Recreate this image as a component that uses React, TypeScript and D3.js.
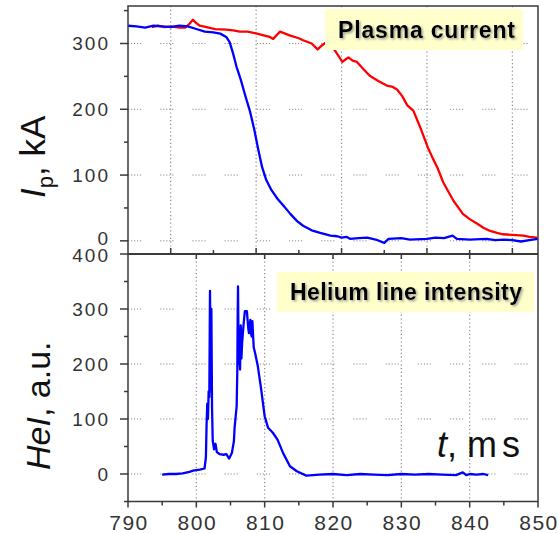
import * as d3 from "d3";
import React from "react";

// plasma current, kA (top panel)
const ipBlue: [number, number][] = [
  [795, 327], [796, 326], [797, 324], [798, 327], [799, 326], [800, 325], [801, 327], [802, 326],
  [803, 322], [804, 318], [805, 317], [805.8, 315], [806.5, 310], [806.9, 302], [807.3, 285],
  [807.7, 265], [808.2, 245], [808.7, 222], [809.3, 196], [809.8, 168], [810.2, 142], [810.7, 112],
  [811.2, 92], [811.8, 77], [812.5, 64], [813.3, 52], [814, 41], [814.8, 30], [815.5, 23],
  [816.5, 16], [817.5, 12], [818.7, 8], [819.5, 7], [820, 5], [820.6, 6], [821, 3], [822, 4],
  [823, 5], [824, 2], [825, -3], [825.5, 3], [827, 4], [828, 2], [830, 3], [831, 5], [832, 4],
  [833, 8], [833.5, 3], [835, 2], [837, 3], [838, 1], [839, 2], [840, 1], [841, -1], [842, 1], [843, 3],
];

const ipRed: [number, number][] = [
  [797.8, 325], [798.5, 327], [799.3, 325], [800, 326], [801, 324], [801.7, 324], [802.2, 330],
  [802.6, 336], [803, 331], [803.4, 327], [804.2, 325], [805.2, 322], [806.5, 321], [807.3, 320],
  [808.1, 318], [809, 318], [810.1, 315], [811, 312], [811.6, 310], [812, 307], [812.5, 314],
  [812.8, 318], [813.4, 315], [814, 312], [815, 308], [815.5, 305], [816.5, 300], [817.2, 291],
  [817.7, 297], [818.1, 301], [818.6, 298], [819.2, 290], [819.7, 280], [820.1, 272], [820.5, 276],
  [820.8, 279], [821.3, 274], [821.8, 272], [822.5, 262], [823.3, 251], [824.3, 243], [825.3, 236],
  [826, 234], [826.5, 230], [827.1, 220], [827.7, 206], [828.4, 198], [829.2, 173], [830.1, 142],
  [830.7, 125], [831.2, 112], [831.9, 89], [832.5, 75], [833.1, 61], [833.7, 50], [834.2, 41],
  [835, 33], [835.9, 26], [836.6, 20], [837.4, 15], [838.2, 12], [838.9, 10], [840, 9],
  [841.3, 8], [842, 6], [842.9, 5],
];

// He I line intensity, a.u. (bottom panel)
const heI: [number, number][] = [
  [795, -1], [796, 0], [797, 0], [798, 1], [799, 4], [799.5, 6], [800.5, 8], [801.2, 10],
  [801.4, 30], [801.5, 90], [801.6, 128], [801.7, 100], [801.8, 150], [801.9, 140], [802.0, 333],
  [802.1, 150], [802.2, 300], [802.3, 120], [802.4, 60], [802.6, 45], [802.8, 55], [803, 40],
  [803.4, 36], [804, 35], [804.4, 36], [804.8, 28], [805.2, 38], [805.5, 60], [805.6, 84],
  [805.8, 110], [805.9, 123], [806.0, 190], [806.05, 285], [806.1, 341], [806.2, 200],
  [806.3, 244], [806.4, 190], [806.5, 270], [806.6, 210], [806.7, 238], [806.9, 270],
  [807.1, 296], [807.4, 296], [807.6, 265], [807.7, 256], [807.9, 280], [808.0, 255],
  [808.1, 250], [808.2, 278], [808.4, 230], [808.6, 220], [809.0, 196], [809.5, 153],
  [810, 105], [810.5, 84], [811.2, 75], [811.9, 62], [812.7, 38], [813.7, 14], [814.7, 5],
  [816.1, -3], [818, -1], [820, 0], [822, -2], [824, 0], [826, -1], [828, -2], [830, 0],
  [832, -1], [834, 0], [836, -1], [838, -2], [839, 3], [839.5, -2], [840, 0], [841, -1],
  [842, 0], [842.7, -2],
];

const xTicks = [790, 800, 810, 820, 830, 840, 850];
const xMinor = [795, 805, 815, 825, 835, 845];
const gridT = [800, 810, 820, 830, 840];
const topMinorT = [805, 815, 825, 835];
const yTicksTop = [0, 100, 200, 300];
const yMinorTop = [50, 150, 250, 350];
const yTicksBot = [0, 100, 200, 300, 400];
const yMinorBot = [-50, 50, 150, 250, 350];

const L = 128, R = 538, T1 = 6, MID = 254, B2 = 501.5;
const axisCol = "#3a3a3a";
const gridCol = "#8a8a8a";
const font = "'Liberation Sans', Arial, sans-serif";
const hDash = "1.2 1.8 1.2 1.8 1.2 1.8 1.2 1.8 1.2 19";

export default function App() {
  const xTop = d3.scaleLinear().domain([795, 843]).range([L, R]);
  const xBot = d3.scaleLinear().domain([790, 850]).range([L, R]);
  const yTop = d3.scaleLinear().domain([-20, 357]).range([MID, T1]);
  const yBot = d3.scaleLinear().domain([-50, 400]).range([B2, MID]);

  const lineTop = d3.line<[number, number]>().x(d => xTop(d[0])).y(d => yTop(d[1]));
  const lineBot = d3.line<[number, number]>().x(d => xBot(d[0])).y(d => yBot(d[1]));

  return (
    <svg width={558} height={533} style={{ position: "absolute", left: 0, top: 0, background: "#fff" }}>
      <defs>
        <clipPath id="cTop"><rect x={L} y={T1} width={R - L} height={MID - T1} /></clipPath>
        <clipPath id="cBot"><rect x={L} y={MID} width={R - L} height={B2 - MID} /></clipPath>
        <filter id="sh" x="-10%" y="-30%" width="120%" height="160%">
          <feDropShadow dx={1.5} dy={1.5} stdDeviation={1} floodColor="#777" floodOpacity={0.7} />
        </filter>
      </defs>

      {/* grid, top panel */}
      {gridT.map(t => (
        <line key={"gvt" + t} x1={xTop(t)} x2={xTop(t)} y1={T1} y2={MID} stroke={gridCol} strokeWidth={1.2} strokeDasharray="1.2 2.6" />
      ))}
      {yTicksTop.map(v => (
        <line key={"ght" + v} x1={L} x2={R} y1={yTop(v)} y2={yTop(v)} stroke={gridCol} strokeWidth={1} strokeDasharray={hDash} />
      ))}
      {/* grid, bottom panel */}
      {gridT.map(t => (
        <line key={"gvb" + t} x1={xBot(t)} x2={xBot(t)} y1={MID} y2={B2} stroke={gridCol} strokeWidth={1.2} strokeDasharray="1.2 2.6" />
      ))}
      {[0, 100, 200, 300].map(v => (
        <line key={"ghb" + v} x1={L} x2={R} y1={yBot(v)} y2={yBot(v)} stroke={gridCol} strokeWidth={1} strokeDasharray={hDash} />
      ))}

      {/* curves */}
      <g clipPath="url(#cTop)">
        <path d={lineTop(ipRed) || ""} fill="none" stroke="#ff0000" strokeWidth={2.3} strokeLinejoin="round" />
        <path d={lineTop(ipBlue) || ""} fill="none" stroke="#0000ff" strokeWidth={2.3} strokeLinejoin="round" />
      </g>
      <g clipPath="url(#cBot)">
        <path d={lineBot(heI) || ""} fill="none" stroke="#0000ff" strokeWidth={2.3} strokeLinejoin="round" />
      </g>

      {/* legend boxes */}
      <rect x={325} y={9} width={198} height={41} fill="#ffffcc" />
      <text x={338} y={37.5} fontFamily={font} fontWeight="bold" fontSize={23} textLength={177} fill="#000" filter="url(#sh)">Plasma current</text>
      <rect x={277} y={272} width={257} height={40} fill="#ffffcc" />
      <text x={290} y={300} fontFamily={font} fontWeight="bold" fontSize={23} textLength={232} fill="#000" filter="url(#sh)">Helium line intensity</text>

      {/* frames */}
      <rect x={L} y={T1} width={R - L} height={B2 - T1} fill="none" stroke={axisCol} strokeWidth={1.5} />
      <line x1={L} x2={R} y1={MID} y2={MID} stroke={axisCol} strokeWidth={1.8} />

      {/* left ticks top */}
      {yTicksTop.map(v => (
        <g key={"yt" + v}>
          <line x1={L - 8} x2={L} y1={yTop(v)} y2={yTop(v)} stroke={axisCol} strokeWidth={1.5} />
          <text x={110} y={yTop(v) + (v === 0 ? 4 : 7)} textAnchor="end" fontFamily={font} fontSize={19} letterSpacing={2} fill="#333">{v}</text>
        </g>
      ))}
      {yMinorTop.map(v => (
        <line key={"ymt" + v} x1={L - 4} x2={L} y1={yTop(v)} y2={yTop(v)} stroke={axisCol} strokeWidth={1.5} />
      ))}
      {/* left ticks bottom */}
      {yTicksBot.map(v => (
        <g key={"yb" + v}>
          <line x1={L - 8} x2={L} y1={yBot(v)} y2={yBot(v)} stroke={axisCol} strokeWidth={1.5} />
          <text x={110} y={yBot(v) + (v === 400 ? 8 : 7)} textAnchor="end" fontFamily={font} fontSize={19} letterSpacing={2} fill="#333">{v}</text>
        </g>
      ))}
      {yMinorBot.map(v => (
        <line key={"ymb" + v} x1={L - 4} x2={L} y1={yBot(v)} y2={yBot(v)} stroke={axisCol} strokeWidth={1.5} />
      ))}

      {/* shared middle axis ticks */}
      {gridT.map(t => (
        <line key={"mt" + t} x1={xTop(t)} x2={xTop(t)} y1={MID - 6} y2={MID} stroke={axisCol} strokeWidth={1.5} />
      ))}
      {topMinorT.map(t => (
        <line key={"mmt" + t} x1={xTop(t)} x2={xTop(t)} y1={MID - 4} y2={MID} stroke={axisCol} strokeWidth={1.5} />
      ))}
      {gridT.map(t => (
        <line key={"mb" + t} x1={xBot(t)} x2={xBot(t)} y1={MID} y2={MID + 5} stroke={axisCol} strokeWidth={1.5} />
      ))}

      {/* bottom axis */}
      {xTicks.map(t => (
        <g key={"xt" + t}>
          <line x1={xBot(t)} x2={xBot(t)} y1={B2} y2={B2 + 6} stroke={axisCol} strokeWidth={1.5} />
          <text x={xBot(t) + 1} y={529.5} textAnchor="middle" fontFamily={font} fontSize={21} letterSpacing={1.5} fill="#333">{t}</text>
        </g>
      ))}
      {xMinor.map(t => (
        <line key={"xm" + t} x1={xBot(t)} x2={xBot(t)} y1={B2} y2={B2 + 4} stroke={axisCol} strokeWidth={1.5} />
      ))}

      {/* axis titles */}
      <text transform="translate(45,198) rotate(-90)" fontFamily={font} fontSize={35} fill="#111">
        <tspan fontStyle="italic">I</tspan>
        <tspan fontSize={22} dy={8}>p</tspan>
        <tspan dy={-8}>, kA</tspan>
      </text>
      <text transform="translate(50,470) rotate(-90)" fontFamily={font} fontSize={34} fill="#111">
        <tspan fontStyle="italic">HeI</tspan>
        <tspan>, a.u.</tspan>
      </text>
      <text x={437} y={456.5} fontFamily={font} fontSize={36} fill="#111">
        <tspan fontStyle="italic">t</tspan>
        <tspan>, </tspan>
        <tspan letterSpacing={5}>ms</tspan>
      </text>
    </svg>
  );
}
